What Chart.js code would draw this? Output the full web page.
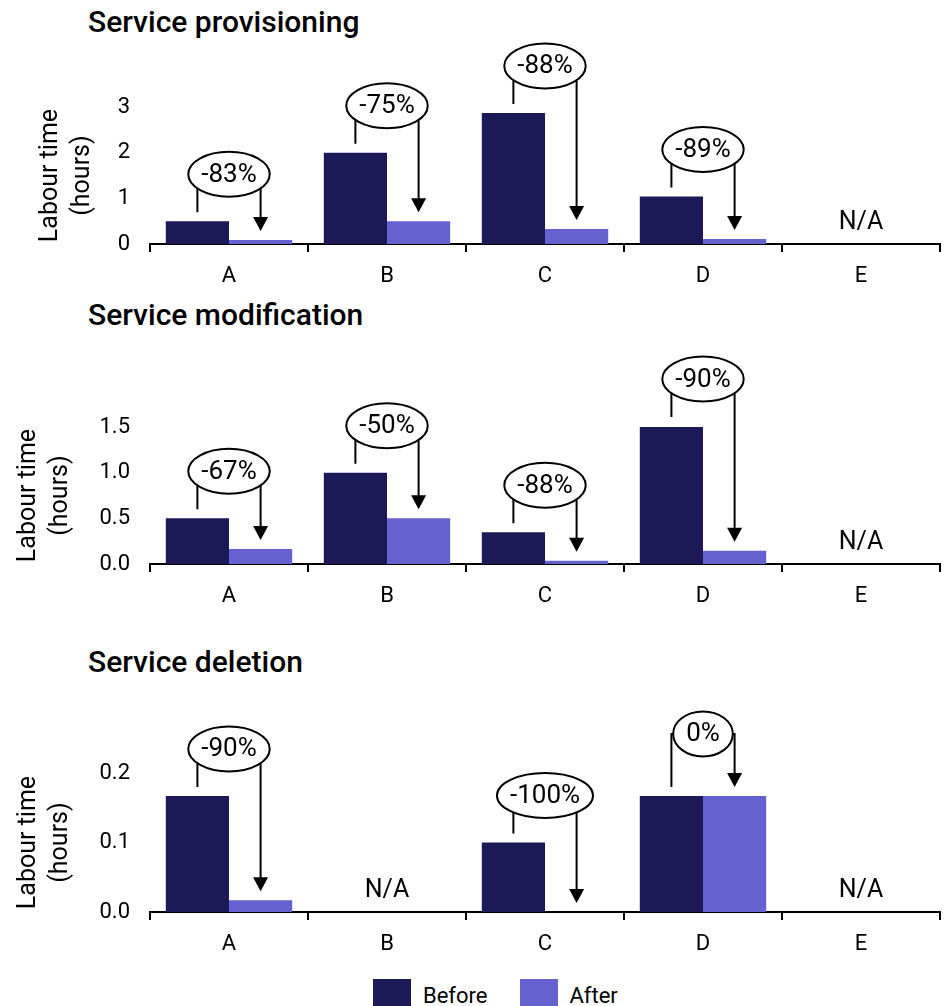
<!DOCTYPE html>
<html>
<head>
<meta charset="utf-8">
<script src="https://cdn.jsdelivr.net/npm/chart.js@4.4.1/dist/chart.umd.min.js"></script>
<style>
  html, body { margin: 0; padding: 0; background: #fff; width: 951px; height: 1006px; overflow: hidden; }
  body { position: relative; font-family: Roboto, sans-serif; color: #000; }
  .title { position: absolute; left: 88px; font-size: 30px; font-weight: 500; line-height: 30px; white-space: nowrap; }
  canvas { position: absolute; left: 0; }
  .legend { position: absolute; top: 979px; left: 373px; display: flex; font-size: 22px; line-height: 22px; }
  .legend .box { width: 38px; height: 30px; }
  .legend .lbl { padding-top: 6px; margin-left: 12px; margin-right: 32px; }
</style>
</head>
<body>
<div class="title" style="top:7px">Service provisioning</div>
<div class="title" style="top:300px">Service modification</div>
<div class="title" style="top:647px">Service deletion</div>

<canvas id="prov" width="951" height="300" style="top:0px"></canvas>
<canvas id="mod" width="951" height="320" style="top:300px"></canvas>
<canvas id="del" width="951" height="328" style="top:640px"></canvas>

<div class="legend">
  <div class="box" style="background:#1c1957"></div><div class="lbl">Before</div>
  <div class="box" style="background:#6661d1"></div><div class="lbl">After</div>
</div>

<script>
// categorías comunes
const categories = ['A', 'B', 'C', 'D', 'E'];

// Service provisioning (horas)
const provBefore = [0.5, 2.0, 2.87, 1.04, null];
const provAfter  = [0.088, 0.5, 0.33, 0.11, null];
const provChange = ['-83%', '-75%', '-88%', '-89%', null];
const provTicks  = [0, 1, 2, 3];

// Service modification
const modBefore = [0.5, 1.0, 0.347, 1.51, null];
const modAfter  = [0.164, 0.5, 0.036, 0.146, null];
const modChange = ['-67%', '-50%', '-88%', '-90%', null];
const modTicks  = [0, 0.5, 1.0, 1.5];

// Service deletion
const delBefore = [0.167, null, 0.1, 0.167, null];
const delAfter  = [0.017, null, 0, 0.167, null];
const delChange = ['-90%', null, '-100%', '0%', null];
const delTicks  = [0, 0.1, 0.2];

const BEFORE_COLOR = '#1c1957';
const AFTER_COLOR  = '#6661d1';

Chart.defaults.font.family = 'Roboto, sans-serif';
Chart.defaults.color = '#000';

/* ---- Óvalos con % de cambio y flechas, o N/A ---- */
const changeArrows = {
  id: 'changeArrows',
  afterDatasetsDraw(chart, args, opts) {
    const { ctx } = chart;
    const xs = chart.scales.x, ys = chart.scales.y;
    const base = ys.getPixelForValue(0);
    const b = chart.getDatasetMeta(0).data;
    const a = chart.getDatasetMeta(1).data;

    ctx.save();
    ctx.lineWidth = 2;
    ctx.strokeStyle = '#000';
    ctx.fillStyle = '#000';
    ctx.textAlign = 'center';

    opts.labels.forEach((label, i) => {
      const cx = xs.getPixelForValue(i);
      if (label == null) {
        ctx.font = '25px Roboto, sans-serif';
        ctx.textBaseline = 'alphabetic';
        ctx.fillText('N/A', cx, base - 15);
        return;
      }
      const xb = b[i].x, yb = b[i].y;
      const xa = a[i].x, ya = a[i].y;

      ctx.font = '26px Roboto, sans-serif';
      const w = ctx.measureText(label).width;
      const rx = w / 2 + 13, ry = 22.5;
      const narrow = rx < (xa - xb) / 2 + 3;
      const cy = Math.min(yb, ya) - (narrow ? 62 : 47);
      const tip = ya - 9;

      // corchete izquierdo
      ctx.beginPath();
      ctx.moveTo(xb, yb - 9);
      ctx.lineTo(xb, cy);
      ctx.lineTo(cx, cy);
      ctx.stroke();
      // bajada derecha
      ctx.beginPath();
      ctx.moveTo(cx, cy);
      ctx.lineTo(xa, cy);
      ctx.lineTo(xa, tip - 12);
      ctx.stroke();
      // punta de flecha
      ctx.beginPath();
      ctx.moveTo(xa - 7.5, tip - 14);
      ctx.lineTo(xa + 7.5, tip - 14);
      ctx.lineTo(xa, tip);
      ctx.closePath();
      ctx.fill();
      // óvalo
      ctx.beginPath();
      ctx.ellipse(cx, cy, rx, ry, 0, 0, Math.PI * 2);
      ctx.fillStyle = '#fff';
      ctx.fill();
      ctx.stroke();
      ctx.fillStyle = '#000';
      ctx.textBaseline = 'middle';
      ctx.fillText(label, cx, cy + 1);
    });
    ctx.restore();
  },
};

function makeChart(id, before, after, changes, ticks, decimals, padTop, titlePad) {
  const yMax = ticks[ticks.length - 1];
  return new Chart(document.getElementById(id), {
    type: 'bar',
    data: {
      labels: categories,
      datasets: [
        { label: 'Before', data: before, backgroundColor: BEFORE_COLOR },
        { label: 'After',  data: after,  backgroundColor: AFTER_COLOR },
      ],
    },
    options: {
      responsive: false,
      animation: false,
      events: [],
      datasets: { bar: { categoryPercentage: 0.8, barPercentage: 1.0 } },
      layout: { padding: { top: padTop, right: 11, left: 0, bottom: 0 } },
      plugins: {
        legend: { display: false },
        tooltip: { enabled: false },
        changeArrows: { labels: changes },
      },
      scales: {
        x: {
          afterFit: s => { s.height = 56; },
          border: { display: true, color: '#000', width: 2 },
          grid: { display: true, drawOnChartArea: false, drawTicks: true, tickLength: 8, color: '#000', lineWidth: 2, offset: true },
          ticks: { color: '#000', font: { size: 22 }, padding: 11 },
        },
        y: {
          min: 0,
          max: yMax,
          afterFit: s => { s.width = 150; },
          afterBuildTicks: s => { s.ticks = ticks.map(v => ({ value: v })); },
          border: { display: false },
          grid: { display: false, drawTicks: false },
          ticks: { color: '#000', font: { size: 22 }, padding: 20, callback: v => v.toFixed(decimals) },
          title: {
            display: true,
            text: ['Labour time', '(hours)'],
            color: '#000',
            font: { size: 25, lineHeight: 1.3 },
            padding: { top: titlePad, bottom: 0 },
          },
        },
      },
    },
    plugins: [changeArrows],
  });
}

makeChart('prov', provBefore, provAfter, provChange, provTicks, 0, 107, 34);
makeChart('mod',  modBefore,  modAfter,  modChange,  modTicks,  1, 127, 12);
makeChart('del',  delBefore,  delAfter,  delChange,  delTicks,  1, 133, 12);
</script>
</body>
</html>
